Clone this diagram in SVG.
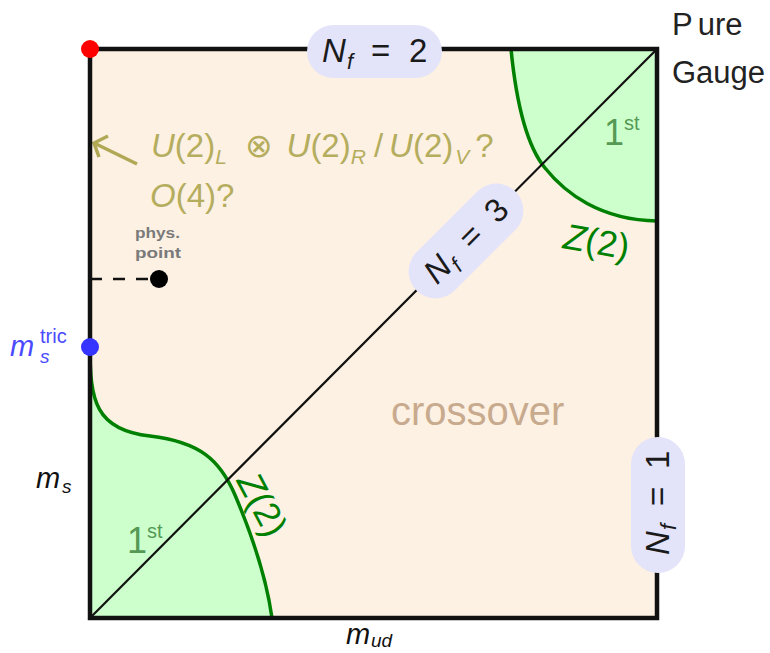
<svg xmlns="http://www.w3.org/2000/svg" width="770" height="653" viewBox="0 0 770 653">
<defs>
<style>
text{font-family:"Liberation Sans","DejaVu Sans",sans-serif;}
.pill{fill:#e3e3fa;}
.math{font-size:33px;fill:#1a1a1a;}
.it{font-style:italic;}
.sub{font-size:22px;font-style:italic;}
.olive{fill:#b5ad5e;font-size:33px;}
.osub{font-size:21px;font-style:italic;}
.first{fill:#559955;}
.z2{fill:#008000;font-size:36px;}
.phase{fill:#ccffcc;}
.curve{fill:none;stroke:#008000;stroke-width:3.5;}
</style>
</defs>
<rect width="770" height="653" fill="#ffffff"/>
<g id="region">
<rect x="90" y="49" width="567" height="569" fill="#fdf1e3"/>
</g>
<g id="first-order-top">
<path class="phase" d="M511,49 C516,100 526,145 545,168 C565,193 600,220 657,221 L657,49 Z"/>
<path class="curve" d="M511,49 C516,100 526,145 545,168 C565,193 600,220 657,221"/>
<text class="first" x="604" y="145" font-size="36">1<tspan font-size="20" dy="-15">st</tspan></text>
</g>
<g id="first-order-bottom">
<path class="phase" d="M90,347 C90,400 95,430 150,436 C200,442 220,460 235,495 C252,535 266,575 272,618 L90,618 Z"/>
<path class="curve" d="M90,347 C90,400 95,430 150,436 C200,442 220,460 235,495 C252,535 266,575 272,618"/>
<text class="first" x="127" y="553" font-size="36">1<tspan font-size="20" dy="-15">st</tspan></text>
</g>
<g id="connectors">
<line x1="90" y1="618" x2="657" y2="49" stroke="#111" stroke-width="2.2"/>
<line x1="90" y1="279" x2="152" y2="279" stroke="#111" stroke-width="2.5" stroke-dasharray="12 11"/>
<path d="M137,164 L94,143 M108,136 L94,143 L99,157" fill="none" stroke="#b0a855" stroke-width="3.5" stroke-linejoin="miter"/>
</g>
<g id="frame">
<rect x="90" y="49" width="567" height="569" fill="none" stroke="#111" stroke-width="4.5"/>
</g>
<g id="z2-top">
<text class="z2" transform="translate(562,248) rotate(10)"><tspan class="it">Z</tspan>(2)</text>
</g>
<g id="z2-bottom">
<text class="z2" transform="translate(236,481) rotate(62)"><tspan class="it">Z</tspan>(2)</text>
</g>
<g id="crossover">
<text x="391" y="425" font-size="40" fill="#c8aa8e">crossover</text>
</g>
<g id="nf2">
<rect class="pill" x="307" y="25" width="135" height="53" rx="26.5"/>
<text class="math" y="62"><tspan class="it" x="322">N</tspan><tspan class="sub" x="347" dy="7">f</tspan><tspan x="371" dy="-7">=</tspan><tspan x="409">2</tspan></text>
</g>
<g id="nf3" transform="translate(466,241) rotate(-45)">
<rect class="pill" x="-70" y="-27" width="140" height="54" rx="27"/>
<text class="math" y="11"><tspan class="it" x="-52">N</tspan><tspan class="sub" x="-27" dy="7">f</tspan><tspan x="-3" dy="-7">=</tspan><tspan x="34">3</tspan></text>
</g>
<g id="nf1" transform="translate(658,505) rotate(-90)">
<rect class="pill" x="-68" y="-27" width="136" height="54" rx="27"/>
<text class="math" y="11"><tspan class="it" x="-50">N</tspan><tspan class="sub" x="-25" dy="7">f</tspan><tspan x="-1" dy="-7">=</tspan><tspan x="36">1</tspan></text>
</g>
<g id="pure-gauge">
<circle cx="90" cy="49" r="9" fill="#ff0000"/>
<text x="672" y="35" font-size="31" fill="#222">P<tspan dx="5">ure</tspan></text>
<text x="672" y="83" font-size="31" fill="#222">Gauge</text>
</g>
<g id="symmetry-label">
<text class="olive" x="151" y="157"><tspan class="it">U</tspan>(2)<tspan class="osub" dy="7">L</tspan><tspan dx="18" dy="-7">⊗</tspan><tspan class="it" dx="14">U</tspan>(2)<tspan class="osub" dy="7">R</tspan><tspan dx="8" dy="-7">/</tspan><tspan class="it" dx="6">U</tspan>(2)<tspan class="osub" dx="2" dy="7">V</tspan><tspan dx="6" dy="-7">?</tspan></text>
<text class="olive" x="150" y="207"><tspan class="it">O</tspan>(4)?</text>
</g>
<g id="phys-point">
<circle cx="159" cy="279" r="9" fill="#000"/>
<text x="135" y="238" font-size="14" font-weight="bold" fill="#7a7a7a" textLength="45" lengthAdjust="spacingAndGlyphs">phys.</text>
<text x="135" y="258" font-size="14" font-weight="bold" fill="#7a7a7a" textLength="46" lengthAdjust="spacingAndGlyphs">point</text>
</g>
<g id="ms-tric">
<circle cx="90" cy="347" r="9" fill="#3535ff"/>
<text x="10" y="356" font-size="29" fill="#4a4aff"><tspan class="it">m</tspan><tspan x="40" dy="7" font-size="19" font-style="italic">s</tspan><tspan x="40" dy="-20" font-size="20">tric</tspan></text>
</g>
<g id="ms-axis">
<text x="36" y="488" font-size="29" fill="#111"><tspan class="it">m</tspan><tspan x="62" dy="5" font-size="19" font-style="italic">s</tspan></text>
</g>
<g id="mud-axis">
<text x="346" y="644" font-size="29" fill="#111"><tspan class="it">m</tspan><tspan x="371" dy="3" font-size="19" font-style="italic">ud</tspan></text>
</g>
</svg>
